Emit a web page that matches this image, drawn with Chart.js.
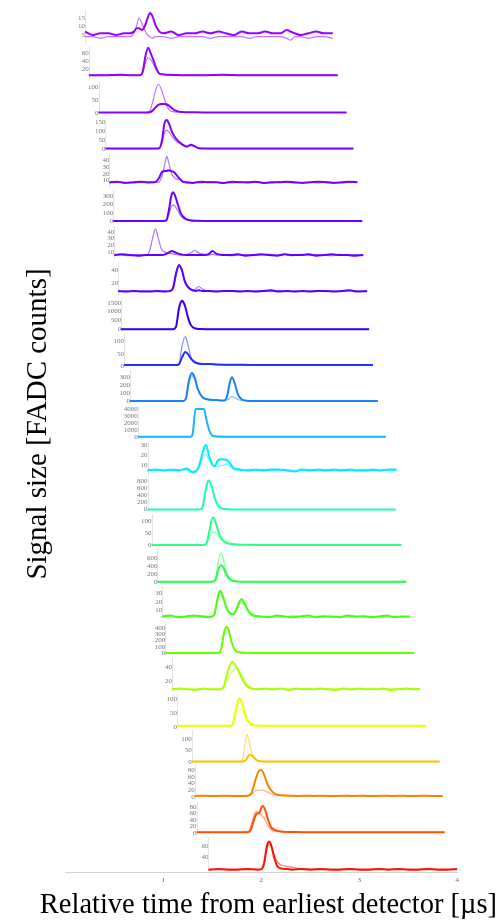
<!DOCTYPE html>
<html>
<head>
<meta charset="utf-8">
<script src="https://cdn.jsdelivr.net/npm/chart.js@4.4.1/dist/chart.umd.min.js"></script>
<style>
  html, body { margin: 0; padding: 0; background: #fff; }
  canvas { display: block; }
</style>
</head>
<body>
<canvas id="traces" width="501" height="921"></canvas>
<script>
// FADC traces of 24 detectors, earliest at the top. Two PMTs per detector.
// times in µs, values in FADC counts.
const times = [
  [0.20,0.28,0.36,0.44,0.52,0.60,0.66,0.70,0.73,0.75,0.78,0.81,0.84,0.865,0.89,0.92,0.96,1.00,1.08,1.16,1.24,1.32,1.40,1.48,1.56,1.64,1.72,1.80,1.88,1.96,2.04,2.12,2.20,2.26,2.30,2.34,2.40,2.48,2.56,2.64,2.73],
  [0.24,0.40,0.56,0.68,0.76,0.79,0.82,0.845,0.87,0.90,0.93,0.96,1.00,1.05,1.20,1.40,1.60,1.80,2.00,2.20,2.40,2.60,2.78],
  [0.34,0.50,0.70,0.82,0.86,0.89,0.92,0.95,0.98,1.01,1.04,1.07,1.10,1.14,1.20,1.30,1.50,1.80,2.10,2.40,2.70,2.87],
  [0.41,0.60,0.80,0.92,0.96,0.99,1.01,1.035,1.06,1.09,1.12,1.16,1.20,1.24,1.28,1.32,1.36,1.45,1.60,1.90,2.20,2.50,2.80,2.94],
  [0.45,0.53,0.61,0.69,0.77,0.85,0.91,0.95,0.99,1.02,1.035,1.05,1.08,1.11,1.14,1.17,1.20,1.24,1.30,1.38,1.46,1.54,1.62,1.70,1.78,1.86,1.94,2.02,2.10,2.18,2.26,2.34,2.42,2.50,2.58,2.66,2.74,2.82,2.90,2.98],
  [0.49,0.70,0.90,1.00,1.03,1.06,1.08,1.10,1.12,1.15,1.18,1.22,1.27,1.35,1.50,1.80,2.10,2.40,2.70,3.03],
  [0.50,0.58,0.66,0.74,0.82,0.86,0.89,0.92,0.95,0.98,1.02,1.06,1.085,1.12,1.18,1.24,1.28,1.32,1.36,1.42,1.47,1.50,1.54,1.60,1.68,1.76,1.84,1.92,2.00,2.08,2.16,2.24,2.32,2.40,2.48,2.56,2.64,2.72,2.80,2.88,2.96,3.04],
  [0.54,0.62,0.70,0.78,0.86,0.94,1.02,1.07,1.10,1.13,1.16,1.19,1.22,1.26,1.30,1.33,1.36,1.40,1.46,1.54,1.62,1.70,1.78,1.86,1.94,2.02,2.10,2.18,2.26,2.34,2.42,2.50,2.58,2.66,2.74,2.82,2.90,2.98,3.08],
  [0.57,0.80,1.00,1.10,1.13,1.16,1.19,1.22,1.25,1.28,1.32,1.38,1.50,1.80,2.10,2.40,2.70,3.10],
  [0.60,0.80,1.00,1.12,1.16,1.19,1.225,1.25,1.28,1.31,1.35,1.40,1.48,1.56,1.80,2.10,2.40,2.70,3.14],
  [0.66,0.90,1.10,1.20,1.23,1.26,1.29,1.32,1.35,1.40,1.46,1.54,1.62,1.65,1.68,1.70,1.73,1.76,1.80,1.85,1.95,2.20,2.50,2.80,3.19],
  [0.74,1.00,1.20,1.28,1.30,1.33,1.37,1.415,1.44,1.47,1.50,1.55,1.70,2.00,2.40,2.80,3.27],
  [0.84,0.92,1.00,1.08,1.16,1.24,1.30,1.36,1.40,1.435,1.47,1.52,1.56,1.60,1.65,1.68,1.72,1.78,1.86,1.94,2.02,2.10,2.18,2.26,2.34,2.42,2.50,2.58,2.66,2.74,2.82,2.90,2.98,3.06,3.14,3.22,3.30,3.38],
  [0.84,1.10,1.30,1.37,1.40,1.43,1.46,1.49,1.52,1.55,1.59,1.65,1.80,2.10,2.50,2.90,3.37],
  [0.88,1.10,1.30,1.40,1.44,1.47,1.49,1.51,1.53,1.56,1.59,1.63,1.68,1.75,1.90,2.20,2.60,3.00,3.43],
  [0.94,1.20,1.40,1.50,1.53,1.56,1.585,1.61,1.64,1.68,1.72,1.80,2.00,2.40,2.80,3.20,3.48],
  [0.99,1.07,1.15,1.23,1.31,1.39,1.47,1.52,1.55,1.58,1.61,1.65,1.71,1.75,1.78,1.80,1.83,1.87,1.92,2.00,2.08,2.16,2.24,2.32,2.40,2.48,2.56,2.64,2.72,2.80,2.88,2.96,3.04,3.12,3.20,3.28,3.36,3.44,3.52],
  [1.02,1.30,1.50,1.56,1.59,1.62,1.645,1.67,1.70,1.73,1.77,1.85,2.00,2.40,2.80,3.20,3.56],
  [1.09,1.17,1.25,1.33,1.41,1.49,1.57,1.61,1.65,1.70,1.75,1.80,1.85,1.90,1.96,2.04,2.12,2.20,2.28,2.36,2.44,2.52,2.60,2.68,2.76,2.84,2.92,3.00,3.08,3.16,3.24,3.32,3.40,3.48,3.56,3.62],
  [1.14,1.40,1.60,1.68,1.71,1.74,1.765,1.78,1.80,1.83,1.86,1.90,1.95,2.05,2.30,2.70,3.10,3.68],
  [1.29,1.50,1.70,1.78,1.81,1.835,1.855,1.87,1.885,1.91,1.94,1.97,2.02,2.20,2.50,2.90,3.30,3.82],
  [1.32,1.40,1.48,1.56,1.64,1.72,1.80,1.86,1.90,1.94,1.97,2.00,2.03,2.06,2.10,2.15,2.22,2.30,2.38,2.46,2.54,2.62,2.70,2.78,2.86,2.94,3.02,3.10,3.18,3.26,3.34,3.42,3.50,3.58,3.66,3.74,3.85],
  [1.34,1.50,1.65,1.80,1.87,1.90,1.93,1.955,1.98,2.00,2.015,2.04,2.07,2.10,2.15,2.22,2.35,2.55,2.80,3.10,3.40,3.70,3.87],
  [1.46,1.56,1.66,1.76,1.86,1.96,2.00,2.03,2.055,2.08,2.10,2.13,2.16,2.20,2.26,2.32,2.40,2.50,2.60,2.70,2.80,2.90,3.00,3.10,3.20,3.30,3.40,3.50,3.60,3.70,3.80,3.90,4.00]
];

// first PMT (drawn bold)
const pmt1 = [
  [7,5,6,6,5,6,6,7,9,9,8,10,15,18,16,11,7,6,7,5,6,6,7,6,7,6,5,7,6,6,7,6,6,8,7,6,5,6,7,6,6],
  [6,6,7,6,6,15,55,72,60,42,22,10,8,7,6,6,7,6,6,6,6,6,6],
  [3,3,3,3,4,10,22,32,35,35,33,25,15,8,5,4,3,3,3,3,3,3],
  [4,4,4,4,6,60,140,163,140,95,66,42,25,15,25,18,6,4,4,4,4,4,4,4],
  [7,8,6,7,8,7,7,12,23,24,24,25,24,22,17,12,8,7,6,8,7,7,6,8,7,7,8,6,7,7,8,7,6,7,8,7,6,7,8,7],
  [3,3,3,3,10,150,290,340,300,190,90,35,12,5,3,3,3,3,3,3],
  [6,7,6,5,6,6,6,6,6,6,7,10,12,10,7,6,6,6,6,6,8,12,8,6,6,7,5,6,7,6,5,7,6,6,7,5,6,7,6,6,5,6],
  [7,6,7,6,6,7,6,7,12,35,48,40,22,12,8,7,8,7,7,6,7,7,6,7,6,7,8,6,7,6,7,6,7,7,6,7,8,6,7],
  [10,10,10,10,150,1200,1610,1350,700,250,60,20,10,10,10,10,10,10],
  [5,5,5,5,8,35,58,50,32,20,12,9,9,7,6,5,5,5,5],
  [4,4,4,4,30,250,355,300,160,50,22,15,10,60,240,300,220,90,25,8,4,4,4,4,4],
  [30,30,30,30,500,4050,4060,4050,2500,900,200,60,30,30,30,30,30],
  [5,6,5,6,5,7,3,8,22,30,18,9,15,16,15,12,7,6,5,6,5,6,6,5,4,6,5,6,5,6,5,6,5,5,6,5,6,6],
  [0,0,0,0,60,520,830,700,380,150,40,10,0,0,0,0,0],
  [2,2,2,2,8,60,100,115,100,60,30,14,7,4,3,2,2,2,2],
  [5,5,5,5,40,300,420,380,200,70,25,8,5,5,5,5,5],
  [3,4,2,3,4,3,2,5,22,33,26,12,5,12,21,23,18,9,4,3,2,4,3,2,3,4,2,3,3,2,4,3,3,2,3,4,2,3,3],
  [0,0,0,0,60,330,420,350,160,50,12,3,0,0,0,0,0],
  [9,10,9,8,10,9,9,11,30,48,40,25,14,10,9,10,9,10,8,10,9,9,10,9,8,10,9,10,9,9,10,8,9,10,9,9],
  [4,4,4,4,12,60,95,102,90,50,22,8,5,4,4,4,4,4],
  [2,2,2,2,2,6,15,28,33,26,12,4,2,2,2,2,2,2],
  [3,4,3,3,4,3,3,4,12,50,75,80,65,40,20,8,5,4,3,4,3,4,3,3,4,3,4,3,3,4,3,4,3,3,4,3,3],
  [2,2,2,2,3,15,45,60,62,78,83,70,40,18,8,4,3,2,2,2,2,2,2],
  [17,18,17,17,18,17,18,30,58,68,62,40,24,19,18,17,18,17,18,17,17,18,17,17,18,17,18,17,17,18,17,17,18]
];

// second PMT (drawn light)
const pmt2 = [
  [4,4,3,4,4,4,4,6,11,15,12,8,5,4,3,4,4,4,3,4,4,4,4,3,4,4,4,4,3,4,4,4,4,3,2,4,4,3,4,4,3],
  [6,6,6,6,6,12,38,48,44,32,18,10,8,7,6,6,6,6,6,6,6,6,6],
  [3,3,3,3,8,40,85,109,90,55,25,10,6,4,3,3,3,3,3,3,3,3],
  [4,4,4,4,5,40,90,107,95,70,50,35,22,14,20,14,6,4,4,4,4,4,4,4],
  [6,7,7,6,7,6,7,7,18,38,46,40,22,14,12,11,8,6,7,6,8,7,7,6,8,6,7,7,6,8,7,6,7,7,6,8,7,6,7,7],
  [3,3,3,3,8,90,170,190,175,120,60,25,10,5,3,3,3,3,3,3],
  [7,6,5,7,6,12,30,44,30,15,10,8,8,7,6,7,9,13,9,7,6,7,6,7,5,6,7,6,6,7,6,7,5,7,6,7,6,5,7,6,7,6],
  [6,7,6,7,7,6,7,6,10,30,46,38,20,11,8,10,14,10,7,7,6,7,7,6,7,7,6,8,6,7,6,7,7,6,7,6,7,7,6],
  [10,10,10,10,120,1100,1550,1300,680,240,55,20,10,10,10,10,10,10],
  [5,5,5,5,10,80,120,90,40,18,10,8,8,6,5,5,5,5,5],
  [4,4,4,4,25,220,320,280,150,45,20,12,8,15,45,58,45,22,10,6,4,4,4,4,4],
  [30,30,30,30,480,4040,4050,4040,2400,850,190,55,30,30,30,30,30],
  [6,5,6,5,6,5,4,7,17,21,14,9,9,10,11,9,6,5,6,5,6,5,5,6,5,5,6,5,6,5,6,5,6,6,5,6,5,5],
  [0,0,0,0,55,500,800,690,370,140,35,10,0,0,0,0,0],
  [2,2,2,2,6,35,52,56,52,40,26,15,8,5,3,2,2,2,2],
  [5,5,5,5,60,500,720,600,280,80,25,8,5,5,5,5,5],
  [2,3,3,2,3,4,3,4,20,31,24,11,6,11,19,21,16,8,3,2,3,3,2,4,3,2,3,4,2,3,3,2,4,3,2,3,3,2,3],
  [0,0,0,0,55,310,400,335,150,45,10,3,0,0,0,0,0],
  [10,9,9,10,9,10,8,10,22,34,40,30,18,11,10,9,10,9,10,9,10,9,9,10,10,9,10,9,10,9,9,10,10,9,10,10],
  [4,4,4,4,8,45,70,68,58,40,25,12,6,4,4,4,4,4],
  [2,2,2,2,15,85,120,100,70,35,12,4,2,2,2,2,2,2],
  [3,3,4,3,3,4,3,3,8,18,20,21,19,15,10,6,4,3,4,3,3,3,4,3,3,4,3,3,4,3,3,3,4,3,3,3,4],
  [2,2,2,2,4,30,58,68,60,55,50,40,22,10,5,3,2,2,2,2,2,2,2],
  [18,17,18,18,17,18,17,26,52,64,60,45,32,26,23,21,19,18,17,18,18,17,18,18,17,18,17,18,18,17,18,18,17]
];

const panelTicks = [
  [5,10,15],[20,40,60],[0,50,100],[0,50,100,150],[10,20,30,40],[0,100,200,300],
  [10,20,30,40],[20,40],[0,500,1000,1500],[0,50,100],[0,100,200,300],[0,1000,2000,3000,4000],
  [10,20,30],[0,200,400,600,800],[0,50,100],[0,200,400,600],[10,20,30],[0,100,200,300,400],
  [20,40],[0,50,100],[0,50,100],[0,20,40,60,80],[0,20,40,60,80],[40,60]
];
const timeTicks = [1, 2, 3, 4];

// value range shown inside each strip
const panelRange = [
  [-0.3,20.9],[-5.5,81.2],[-10.2,125],[-15,185],[-1.5,52.5],[-32,390],
  [-1.2,51.2],[-1,55.7],[-152,1878],[-7,139],[-34,416],[-433,4765],
  [-0.4,34.6],[-71,957],[-10,137],[-50,850],[-1.2,41],[-48,528],
  [5.1,56.6],[-3.6,125],[-8.7,148],[-8.9,97.8],[-9.2,101.5],[12.7,78]
];

const panelColor = [
  '#9a00ff','#9200ff','#8a00ff','#8000ff','#7600ff','#6c00ff','#6200ff','#5800ff',
  '#3a00ff','#2030ff','#1a80ff','#1ab4ff','#00eaff','#1affb8','#2aff88','#22ff48',
  '#44ff10','#66ff00','#aaff00','#eaff00','#ffc000','#ff8000','#ff5000','#ff1000'
];

function fade(hex, a) {
  const n = parseInt(hex.slice(1), 16);
  return `rgba(${n >> 16}, ${(n >> 8) & 255}, ${n & 255}, ${a})`;
}

const N = times.length;
const serif = 'Liberation Serif, Times New Roman, serif';

const datasets = [];
times.forEach((t, i) => {
  const common = {
    yAxisID: 'y' + i,
    pointRadius: 0,
    cubicInterpolationMode: 'monotone',
    fill: false
  };
  datasets.push(Object.assign({
    data: t.map((x, k) => ({x, y: pmt1[i][k]})),
    borderColor: panelColor[i],
    borderWidth: 2
  }, common));
  datasets.push(Object.assign({
    data: t.map((x, k) => ({x, y: pmt2[i][k]})),
    borderColor: fade(panelColor[i], 0.55),
    borderWidth: 1.2
  }, common));
});

const hiddenAxis = {
  axis: 'y',
  type: 'linear',
  display: true,
  grid: { display: false, drawTicks: false },
  border: { display: false },
  ticks: { display: false }
};

const scales = {
  x: {
    type: 'linear',
    min: 0,
    max: 4,
    grid: { display: false, drawTicks: false },
    border: { display: true, color: '#d4d4d4', width: 1 },
    afterBuildTicks: s => { s.ticks = timeTicks.map(v => ({ value: v })); },
    ticks: { autoSkip: false, padding: 4, color: '#666', font: { family: serif, size: 7 } }
  },
  // left-hand stack: a short empty foot below the y title
  yFoot: Object.assign({}, hiddenAxis, {
    position: 'left',
    stack: 'side',
    stackWeight: 1
  }),
  yTitle: Object.assign({}, hiddenAxis, {
    position: 'left',
    stack: 'side',
    stackWeight: 26,
    title: {
      display: true,
      text: 'Signal size [FADC counts]',
      color: '#000',
      font: { family: serif, size: 29, lineHeight: 1 },
      padding: { top: 24, bottom: 12.3 }
    }
  }),
  // empty margin on the right of the plot
  yRight: Object.assign({}, hiddenAxis, {
    position: 'right',
    afterFit: s => { s.width = 39.7; }
  })
};

// one y axis per detector, placed at the trace start, each owning a strip
panelTicks.forEach((tk, i) => {
  const [lo, hi] = panelRange[i];
  const span = hi - lo;
  scales['y' + i] = {
    axis: 'y',
    type: 'linear',
    position: { x: times[i][0] },
    min: lo - (N - 1 - i) * span,
    max: hi + i * span,
    grid: { display: false, drawTicks: false },
    border: { display: false },
    afterBuildTicks: s => { s.ticks = tk.map(v => ({ value: v })); },
    ticks: {
      autoSkip: false,
      padding: 2,
      color: '#777',
      font: { family: serif, size: 7 },
      callback: v => String(v)
    }
  };
});

// thin axis line at the left of every strip
const stripAxes = {
  id: 'stripAxes',
  beforeDatasetsDraw(chart) {
    const ctx = chart.ctx;
    const xs = chart.scales.x;
    ctx.save();
    ctx.strokeStyle = '#e2e2e2';
    ctx.lineWidth = 1;
    panelRange.forEach((r, i) => {
      const ys = chart.scales['y' + i];
      const x = Math.round(xs.getPixelForValue(times[i][0])) + 0.5;
      ctx.beginPath();
      ctx.moveTo(x, ys.getPixelForValue(r[1]) + 2);
      ctx.lineTo(x, ys.getPixelForValue(r[0]) - 1);
      ctx.stroke();
    });
    ctx.restore();
  }
};

new Chart(document.getElementById('traces').getContext('2d'), {
  type: 'line',
  data: { datasets },
  options: {
    responsive: false,
    animation: false,
    events: [],
    layout: { padding: { left: 0, right: 4, top: 8, bottom: 0 } },
    plugins: {
      legend: { display: false },
      tooltip: { enabled: false },
      title: {
        display: true,
        position: 'bottom',
        align: 'end',
        text: 'Relative time from earliest detector [µs]',
        color: '#000',
        font: { family: serif, size: 28.5, weight: 'normal', lineHeight: 1 },
        padding: { top: 3.3, bottom: 0.8 }
      }
    },
    scales
  },
  plugins: [stripAxes]
});
</script>
</body>
</html>
